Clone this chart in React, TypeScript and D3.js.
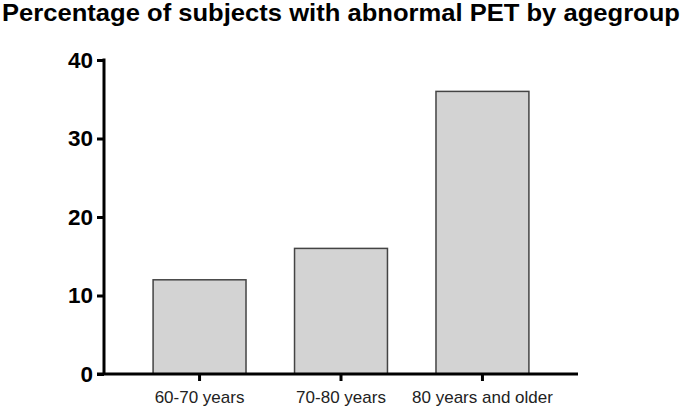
import React, { useEffect, useRef } from "react";
import * as d3 from "d3";

const categories = ["60-70 years", "70-80 years", "80 years and older"];
const values = [12, 16, 36];
const yTicks = [0, 10, 20, 30, 40];
const title = "Percentage of subjects with abnormal PET by agegroup";

export default function App() {
  const ref = useRef<SVGSVGElement>(null);
  useEffect(() => {
    const svg = d3.select(ref.current);
    svg.selectAll("*").remove();
    const x0 = 104, x1 = 578, yTop = 60, yBot = 374;
    const x = d3.scaleBand<string>().domain(categories).range([x0, x1]).paddingInner(0.343).paddingOuter(0.347);
    const y = d3.scaleLinear().domain([0, 40]).range([yBot, yTop]);
    const font = "'Liberation Sans', Arial, sans-serif";

    svg.append("text").attr("x", 2).attr("y", 21).attr("font-family", font).attr("font-weight", "bold")
      .attr("font-size", 24).attr("textLength", 678).attr("lengthAdjust", "spacingAndGlyphs")
      .attr("fill", "#000").text(title);

    svg.append("g").selectAll("rect").data(values).join("rect")
      .attr("x", (_d, i) => x(categories[i])!)
      .attr("width", x.bandwidth())
      .attr("y", (d) => y(d))
      .attr("height", (d) => y(0) - y(d))
      .attr("fill", "#d3d3d3").attr("stroke", "#444").attr("stroke-width", 1.5);

    // y axis
    const ya = svg.append("g").attr("transform", `translate(${x0},0)`)
      .call(d3.axisLeft(y).tickValues(yTicks).tickSize(7).tickPadding(4).tickFormat(d3.format("d")));
    ya.select(".domain").attr("stroke", "#000").attr("stroke-width", 3).attr("d", `M0,${yTop - 1.5}V${yBot}`);
    ya.selectAll(".tick line").attr("stroke", "#000").attr("stroke-width", 3);
    ya.selectAll(".tick text").attr("font-family", font).attr("font-weight", "bold").attr("font-size", 22.5).attr("fill", "#000").attr("x", -11);

    // x axis
    const xa = svg.append("g").attr("transform", `translate(0,${yBot})`)
      .call(d3.axisBottom(x).tickSize(7).tickPadding(8));
    xa.select(".domain").attr("stroke", "#000").attr("stroke-width", 3).attr("d", `M${x0 - 7},0H${x1}`);
    xa.selectAll(".tick line").attr("stroke", "#000").attr("stroke-width", 3);
    xa.selectAll(".tick text").attr("font-family", font).attr("font-size", 17).attr("fill", "#222").attr("dy", "0").attr("y", 29);
  }, []);
  return (
    <svg ref={ref} width={685} height={409} style={{ position: "absolute", left: 0, top: 0, background: "#fff" }} />
  );
}
